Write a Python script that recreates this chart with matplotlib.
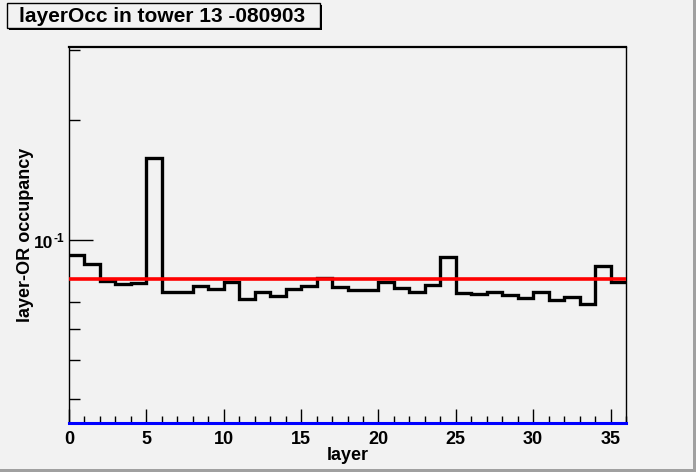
import matplotlib
matplotlib.use("Agg")
import matplotlib.pyplot as plt
import matplotlib.transforms as mtransforms
from matplotlib.patches import Rectangle
from matplotlib.ticker import FixedLocator, NullFormatter

plt.rcParams['font.family'] = ['Liberation Sans', 'DejaVu Sans']

title = "layerOcc in tower 13 -080903"
x_label = "layer"
y_label = "layer-OR occupancy"
bin_edges = list(range(0, 37))
occupancy = [0.0917, 0.0871, 0.0789, 0.0776, 0.0782, 0.1605, 0.0741, 0.0741,
             0.0767, 0.0754, 0.0785, 0.0711, 0.0741, 0.0724, 0.0755, 0.0768,
             0.0804, 0.0764, 0.0748, 0.0748, 0.0786, 0.0758, 0.0741, 0.0771,
             0.0906, 0.0735, 0.0731, 0.0741, 0.0728, 0.0715, 0.0741, 0.0706,
             0.0721, 0.0691, 0.0861, 0.0785]
mean_level = 0.0797
x_ticks = [0, 5, 10, 15, 20, 25, 30, 35]
y_major = [0.1]
y_major_base = "10"
y_major_exp = "-1"
y_minor = [0.04, 0.05, 0.06, 0.07, 0.2, 0.3]

bg = '#f2f2f2'
fig = plt.figure(figsize=(6.96, 4.72), dpi=100, facecolor=bg)
W, H = 696, 472
ax = fig.add_axes([69 / W, 1 - 423 / H, (626 - 69) / W, (423 - 47) / H])
ax.set_facecolor(bg)
ax.set_yscale('log')
ax.set_xlim(0, 36)
ax.set_ylim(0.03475, 0.3055)

ax.stairs(occupancy, bin_edges, baseline=None, color='black', linewidth=2.4, zorder=3)
ax.axhline(mean_level, color='#ff0000', linewidth=2.6, zorder=4)
ax.axhline(0.03475, color='#0000ff', linewidth=2.2, zorder=5, clip_on=False)

for s in ax.spines.values():
    s.set_linewidth(1.0)
    s.set_color('black')
ax.spines['top'].set_linewidth(1.6)

ax.xaxis.set_major_locator(FixedLocator(x_ticks))
ax.xaxis.set_minor_locator(FixedLocator([i for i in range(0, 37) if i % 5 != 0]))
ax.yaxis.set_major_locator(FixedLocator(y_major))
ax.yaxis.set_major_formatter(NullFormatter())
ax.yaxis.set_minor_locator(FixedLocator(y_minor))
ax.yaxis.set_minor_formatter(NullFormatter())

ax.tick_params(axis='x', which='major', direction='in', length=10, width=1, pad=6,
               labelsize=13)
ax.tick_params(axis='x', which='minor', direction='in', length=5, width=1)
ax.tick_params(axis='y', which='major', direction='in', length=17, width=1)
ax.tick_params(axis='y', which='minor', direction='in', length=8, width=1)
for lab in ax.get_xticklabels():
    lab.set_fontweight('bold')

# y major tick label "10^-1" drawn as base + exponent
ytr = ax.get_yaxis_transform()
for yv in y_major:
    base_tr = mtransforms.offset_copy(ytr, fig=fig, x=-(69 - 53) * 0.72, y=-3.5 * 0.72,
                                      units='points')
    ax.text(0, yv, y_major_base, transform=base_tr, ha='right', va='center',
            fontsize=12.5, fontweight='bold', clip_on=False)
    exp_tr = mtransforms.offset_copy(ytr, fig=fig, x=-(69 - 53) * 0.72, y=1 * 0.72,
                                     units='points')
    ax.text(0, yv, y_major_exp, transform=exp_tr, ha='left', va='center',
            fontsize=8.5, fontweight='bold', clip_on=False)

ax.set_xlabel(x_label, fontsize=13, fontweight='bold')
ax.set_ylabel(y_label, fontsize=13, fontweight='bold')
ax.xaxis.set_label_coords(0.5, (423 - 456) / 376)
ax.xaxis.label.set_va('center')
ax.yaxis.set_label_coords((26 - 69) / 557, 0.5)
ax.yaxis.label.set_va('center')

# title box with shadow
fig.patches.append(Rectangle((9 / W, 1 - 30 / H), (322 - 9) / W, (30 - 5) / H,
                             transform=fig.transFigure, facecolor='black',
                             edgecolor='none', zorder=1))
fig.patches.append(Rectangle((7 / W, 1 - 28 / H), (320 - 7) / W, (28 - 3) / H,
                             transform=fig.transFigure, facecolor=bg,
                             edgecolor='black', linewidth=1.0, zorder=2))
fig.text(162 / W, 1 - 16 / H, title, ha='center', va='center', fontsize=15,
         fontweight='bold', zorder=3)

# canvas bevel
fig.patches.append(Rectangle((693 / W, 0), 3 / W, 1, transform=fig.transFigure,
                             facecolor='#a0a0a0', edgecolor='none'))
fig.patches.append(Rectangle((0, 0), 1, 3 / H, transform=fig.transFigure,
                             facecolor='#a0a0a0', edgecolor='none'))

fig.savefig('out.png', dpi=100, facecolor=bg)
